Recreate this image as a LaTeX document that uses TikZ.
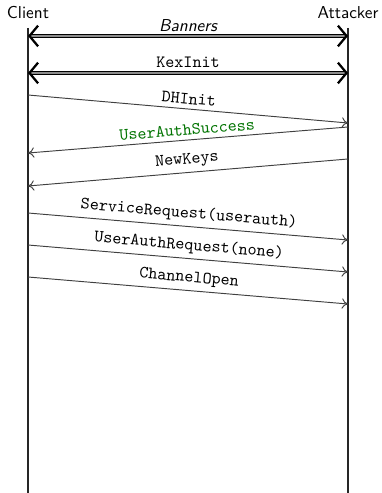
\documentclass[tikz,border=0pt]{standalone}
\usetikzlibrary{arrows.meta}

\begin{document}
\begin{tikzpicture}[
  x=0.58pt, y=-0.58pt,
  font=\sffamily,
  life/.style={line width=1.1pt, draw=black!85},
  msg/.style={-{To[length=3.6pt,width=6pt]}, line width=0.55pt, draw=black!75},
  sync/.style={{Straight Barb[length=5pt,width=12pt,line width=1.3pt]}-{Straight Barb[length=5pt,width=12pt,line width=1.3pt]}, double=black!45, double distance=0.9pt, line width=0.7pt},
  lbl/.style={font=\ttfamily, sloped, above, inner sep=2.5pt}
]
\useasboundingbox (0,0) rectangle (381,493);

\def\xc{28}
\def\xa{348}

% Participants and lifelines.
\node (client) at (\xc,13) {Client};
\node (attacker) at (\xa,13) {Attacker};
\coordinate (ctop) at (\xc,28);
\coordinate (cbot) at (\xc,493);
\coordinate (atop) at (\xa,28);
\coordinate (abot) at (\xa,493);
\draw[life] (ctop) -- (cbot);
\draw[life] (atop) -- (abot);

% Exchanged in both directions.
\coordinate (cban) at (\xc,36);
\coordinate (aban) at (\xa,36);
\coordinate (ckex) at (\xc,73);
\coordinate (akex) at (\xa,73);
\draw[sync] (cban) -- node[above, inner sep=2pt] (banners) {\itshape Banners} (aban);
\draw[sync] (ckex) -- node[above, inner sep=3pt, font=\ttfamily] (kexinit) {KexInit} (akex);

% Messages.
\coordinate (c1) at (\xc,95);   \coordinate (a1) at (\xa,123);
\coordinate (a2) at (\xa,127);  \coordinate (c2) at (\xc,153);
\coordinate (a3) at (\xa,159);  \coordinate (c3) at (\xc,186);
\coordinate (c4) at (\xc,213);  \coordinate (a4) at (\xa,240);
\coordinate (c5) at (\xc,245);  \coordinate (a5) at (\xa,272);
\coordinate (c6) at (\xc,277);  \coordinate (a6) at (\xa,304);

\draw[msg] (c1) -- node[lbl] (dhinit) {DHInit} (a1);
\draw[msg] (a2) -- node[lbl, text=green!45!black] (success) {UserAuthSuccess} (c2);
\draw[msg] (a3) -- node[lbl] (newkeys) {NewKeys} (c3);
\draw[msg] (c4) -- node[lbl] (service) {ServiceRequest(userauth)} (a4);
\draw[msg] (c5) -- node[lbl] (authreq) {UserAuthRequest(none)} (a5);
\draw[msg] (c6) -- node[lbl] (channel) {ChannelOpen} (a6);

\end{tikzpicture}
\end{document}
